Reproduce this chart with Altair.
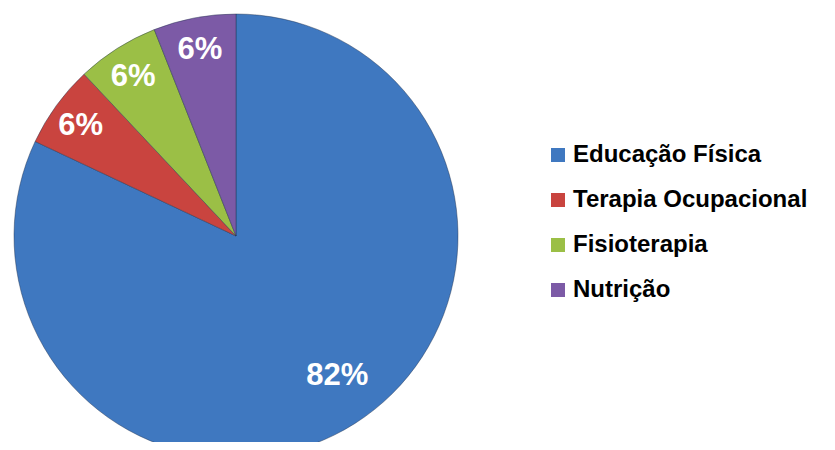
import altair as alt
import pandas as pd

categorias = ["Educação Física", "Terapia Ocupacional", "Fisioterapia", "Nutrição"]
percentuais = [82, 6, 6, 6]
cores = ["#3f78c0", "#c9443f", "#9bbf46", "#7c5aa6"]

df = pd.DataFrame({
    "categoria": categorias,
    "pct": percentuais,
    "ordem": list(range(len(categorias))),
})

base = alt.Chart(df).transform_calculate(
    rot_grande="datum.pct > 50 ? datum.pct + '%' : ''",
    rot_pequeno="datum.pct > 50 ? '' : datum.pct + '%'",
).encode(
    theta=alt.Theta("pct:Q", stack=True),
    order=alt.Order("ordem:Q"),
    x=alt.value(228),
    y=alt.value(228),
)

pie = base.mark_arc(
    radius=222, stroke="#1f2f4a", strokeWidth=0.8, strokeOpacity=0.55
).encode(
    color=alt.Color(
        "categoria:N",
        scale=alt.Scale(domain=categorias, range=cores),
        sort=categorias,
        legend=alt.Legend(
            title=None,
            orient="none",
            legendX=538,
            legendY=135,
            padding=0,
            symbolType="square",
            symbolSize=196,
            symbolStrokeWidth=0,
            symbolOpacity=1,
            labelFont="Liberation Sans",
            labelFontSize=24,
            labelFontWeight="bold",
            labelColor="#000000",
            labelOffset=3,
            rowPadding=21,
            labelLimit=400,
        ),
    )
)

estilo = dict(font="Liberation Sans", fontSize=31, fontWeight="bold", color="white")

rot_g = base.mark_text(radius=172, dx=9, dy=-5, **estilo).encode(text="rot_grande:N")
rot_p = base.mark_text(radius=192, dy=3, **estilo).encode(text="rot_pequeno:N")

chart = (pie + rot_g + rot_p).properties(
    width=819, height=434, padding=0, autosize="none"
).configure_view(stroke=None)

chart.save("out.html", embed_options={"renderer": "svg", "actions": False})
